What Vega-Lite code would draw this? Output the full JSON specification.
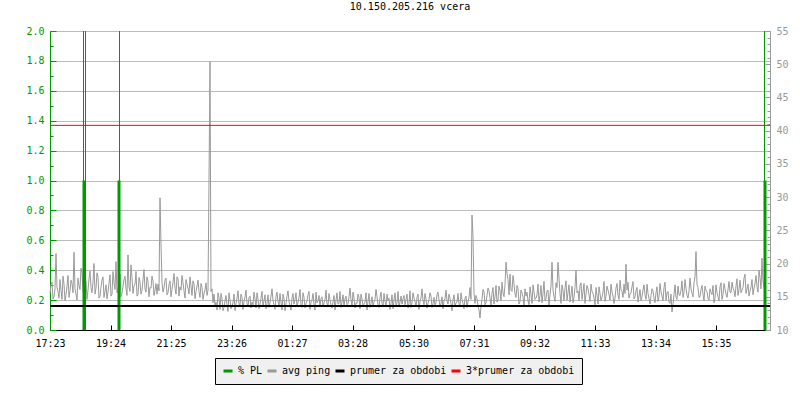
{
  "$schema": "https://vega.github.io/schema/vega-lite/v6.json",
  "width": 720,
  "height": 299,
  "autosize": {"type": "none"},
  "padding": {"left": 50, "top": 31, "right": 30, "bottom": 70},
  "background": "white",
  "title": {"text": "10.150.205.216 vcera", "font": "DejaVu Sans Mono", "fontSize": 10, "fontWeight": "normal", "color": "black", "offset": 14},
  "config": {
    "view": {"stroke": null},
    "axis": {"labelFont": "DejaVu Sans Mono", "labelFontSize": 10, "title": null},
    "legend": {
      "orient": "none", "legendX": 165, "legendY": 327, "direction": "horizontal",
      "fillColor": "#f0f0f0", "strokeColor": "black", "padding": 7,
      "symbolType": "stroke", "symbolSize": 81, "symbolStrokeWidth": 3,
      "labelFont": "DejaVu Sans Mono", "labelFontSize": 10, "labelColor": "black",
      "labelOffset": 4, "columnPadding": -2, "title": null
    }
  },
  "datasets": {
    "ping": [
      {"t":0,"ms":15.5},{"t":2,"ms":16.8},{"t":4,"ms":17.2},{"t":6,"ms":14.7},{"t":8,"ms":15.0},{"t":10,"ms":16.2},{"t":12,"ms":21.5},{"t":14,"ms":16.4},{"t":16,"ms":15.8},{"t":18,"ms":14.8},{"t":20,"ms":17.6},{"t":22,"ms":16.0},{"t":24,"ms":14.6},{"t":26,"ms":18.1},{"t":28,"ms":16.9},{"t":30,"ms":14.4},{"t":32,"ms":15.3},{"t":34,"ms":16.6},{"t":36,"ms":18.2},{"t":38,"ms":14.9},{"t":40,"ms":15.9},{"t":42,"ms":17.5},{"t":44,"ms":17.0},{"t":46,"ms":15.6},{"t":48,"ms":21.7},{"t":50,"ms":16.2},{"t":52,"ms":15.4},{"t":54,"ms":14.5},{"t":56,"ms":17.8},{"t":58,"ms":16.7},{"t":60,"ms":16.1},{"t":62,"ms":19.3},{"t":64,"ms":18.6},{"t":66,"ms":15.9},{"t":68,"ms":15.2},{"t":70,"ms":17.1},{"t":72,"ms":17.4},{"t":74,"ms":14.6},{"t":76,"ms":16.0},{"t":78,"ms":17.7},{"t":80,"ms":18.9},{"t":82,"ms":16.4},{"t":84,"ms":15.6},{"t":86,"ms":17.3},{"t":88,"ms":20.0},{"t":90,"ms":15.4},{"t":92,"ms":16.3},{"t":94,"ms":18.6},{"t":96,"ms":17.9},{"t":98,"ms":14.8},{"t":100,"ms":15.1},{"t":102,"ms":16.5},{"t":104,"ms":17.5},{"t":106,"ms":18.0},{"t":108,"ms":14.9},{"t":110,"ms":15.8},{"t":112,"ms":16.8},{"t":114,"ms":14.7},{"t":116,"ms":15.7},{"t":118,"ms":17.0},{"t":120,"ms":18.3},{"t":122,"ms":15.1},{"t":124,"ms":15.4},{"t":126,"ms":18.8},{"t":128,"ms":17.1},{"t":130,"ms":16.1},{"t":132,"ms":20.3},{"t":134,"ms":15.6},{"t":136,"ms":16.0},{"t":138,"ms":17.2},{"t":140,"ms":18.4},{"t":142,"ms":15.0},{"t":144,"ms":15.5},{"t":146,"ms":16.6},{"t":148,"ms":17.6},{"t":150,"ms":18.1},{"t":152,"ms":16.2},{"t":154,"ms":15.2},{"t":156,"ms":21.3},{"t":158,"ms":16.4},{"t":160,"ms":15.8},{"t":162,"ms":19.8},{"t":164,"ms":17.9},{"t":166,"ms":15.5},{"t":168,"ms":16.6},{"t":170,"ms":16.9},{"t":172,"ms":18.8},{"t":174,"ms":15.1},{"t":176,"ms":15.3},{"t":178,"ms":17.9},{"t":180,"ms":17.2},{"t":182,"ms":15.4},{"t":184,"ms":16.0},{"t":186,"ms":17.6},{"t":188,"ms":19.1},{"t":190,"ms":16.2},{"t":192,"ms":15.7},{"t":194,"ms":18.0},{"t":196,"ms":17.3},{"t":198,"ms":15.0},{"t":200,"ms":16.4},{"t":202,"ms":16.3},{"t":204,"ms":18.1},{"t":206,"ms":17.4},{"t":208,"ms":15.2},{"t":210,"ms":16.0},{"t":212,"ms":17.0},{"t":214,"ms":15.4},{"t":216,"ms":16.9},{"t":218,"ms":15.9},{"t":220,"ms":29.9},{"t":222,"ms":22.9},{"t":224,"ms":17.2},{"t":226,"ms":15.7},{"t":228,"ms":16.3},{"t":230,"ms":17.5},{"t":232,"ms":17.8},{"t":234,"ms":15.3},{"t":236,"ms":15.6},{"t":238,"ms":16.8},{"t":240,"ms":17.4},{"t":242,"ms":15.0},{"t":244,"ms":16.1},{"t":246,"ms":17.2},{"t":248,"ms":18.5},{"t":250,"ms":16.3},{"t":252,"ms":15.4},{"t":254,"ms":18.0},{"t":256,"ms":17.7},{"t":258,"ms":15.1},{"t":260,"ms":16.5},{"t":262,"ms":16.0},{"t":264,"ms":18.2},{"t":266,"ms":17.1},{"t":268,"ms":15.9},{"t":270,"ms":14.8},{"t":272,"ms":17.6},{"t":274,"ms":16.9},{"t":276,"ms":16.3},{"t":278,"ms":15.4},{"t":280,"ms":18.0},{"t":282,"ms":16.6},{"t":284,"ms":15.2},{"t":286,"ms":17.4},{"t":288,"ms":16.9},{"t":290,"ms":14.7},{"t":292,"ms":15.8},{"t":294,"ms":16.6},{"t":296,"ms":17.5},{"t":298,"ms":15.8},{"t":300,"ms":14.9},{"t":302,"ms":17.0},{"t":304,"ms":16.4},{"t":306,"ms":14.6},{"t":308,"ms":15.5},{"t":310,"ms":16.0},{"t":312,"ms":17.1},{"t":314,"ms":15.2},{"t":316,"ms":16.0},{"t":318,"ms":32.6},{"t":320,"ms":50.4},{"t":322,"ms":15.8},{"t":324,"ms":16.2},{"t":326,"ms":14.1},{"t":328,"ms":15.4},{"t":330,"ms":13.6},
      {"t":332,"ms":14.2},{"t":334,"ms":13.0},{"t":336,"ms":15.6},{"t":338,"ms":14.9},{"t":340,"ms":13.1},{"t":342,"ms":15.5},{"t":344,"ms":14.8},{"t":346,"ms":12.9},{"t":348,"ms":13.4},{"t":350,"ms":14.4},{"t":352,"ms":15.2},{"t":354,"ms":13.8},{"t":356,"ms":12.8},{"t":358,"ms":15.6},{"t":360,"ms":14.5},{"t":362,"ms":13.2},{"t":364,"ms":13.6},{"t":366,"ms":14.1},{"t":368,"ms":15.4},{"t":370,"ms":12.9},{"t":372,"ms":14.0},{"t":374,"ms":14.8},{"t":376,"ms":15.9},{"t":378,"ms":13.9},{"t":380,"ms":13.7},{"t":382,"ms":15.4},{"t":384,"ms":14.9},{"t":386,"ms":13.1},{"t":388,"ms":14.3},{"t":390,"ms":15.0},{"t":392,"ms":16.0},{"t":394,"ms":14.0},{"t":396,"ms":13.5},{"t":398,"ms":14.9},{"t":400,"ms":15.1},{"t":402,"ms":13.3},{"t":404,"ms":14.2},{"t":406,"ms":13.8},{"t":408,"ms":15.7},{"t":410,"ms":14.7},{"t":412,"ms":13.3},{"t":414,"ms":15.6},{"t":416,"ms":14.6},{"t":418,"ms":13.2},{"t":420,"ms":13.9},{"t":422,"ms":14.8},{"t":424,"ms":15.8},{"t":426,"ms":13.5},{"t":428,"ms":14.4},{"t":430,"ms":15.3},{"t":432,"ms":13.2},{"t":434,"ms":14.0},{"t":436,"ms":15.3},{"t":438,"ms":13.4},{"t":440,"ms":14.1},{"t":442,"ms":15.1},{"t":444,"ms":16.2},{"t":446,"ms":14.5},{"t":448,"ms":13.8},{"t":450,"ms":13.1},{"t":452,"ms":15.0},{"t":454,"ms":15.7},{"t":456,"ms":14.3},{"t":458,"ms":13.6},{"t":460,"ms":15.5},{"t":462,"ms":14.2},{"t":464,"ms":13.0},{"t":466,"ms":15.4},{"t":468,"ms":14.7},{"t":470,"ms":12.9},{"t":472,"ms":14.0},{"t":474,"ms":15.1},{"t":476,"ms":15.9},{"t":478,"ms":14.3},{"t":480,"ms":13.6},{"t":482,"ms":13.0},{"t":484,"ms":14.8},{"t":486,"ms":15.5},{"t":488,"ms":13.9},{"t":490,"ms":14.6},{"t":492,"ms":15.6},{"t":494,"ms":13.5},{"t":496,"ms":14.2},{"t":498,"ms":14.9},{"t":500,"ms":16.1},{"t":502,"ms":13.7},{"t":504,"ms":13.4},{"t":506,"ms":15.6},{"t":508,"ms":14.9},{"t":510,"ms":13.3},{"t":512,"ms":14.0},{"t":514,"ms":14.4},{"t":516,"ms":15.3},{"t":518,"ms":15.8},{"t":520,"ms":13.1},{"t":522,"ms":14.2},{"t":524,"ms":14.5},{"t":526,"ms":15.5},{"t":528,"ms":13.8},{"t":530,"ms":13.0},{"t":532,"ms":15.7},{"t":534,"ms":14.1},{"t":536,"ms":14.4},{"t":538,"ms":15.2},{"t":540,"ms":13.5},{"t":542,"ms":14.7},{"t":544,"ms":15.0},{"t":546,"ms":13.6},{"t":548,"ms":14.1},{"t":550,"ms":14.5},{"t":552,"ms":16.0},{"t":554,"ms":13.9},{"t":556,"ms":13.7},{"t":558,"ms":15.5},{"t":560,"ms":14.6},{"t":562,"ms":13.8},{"t":564,"ms":13.3},{"t":566,"ms":14.2},{"t":568,"ms":15.2},{"t":570,"ms":13.0},{"t":572,"ms":14.5},{"t":574,"ms":15.6},{"t":576,"ms":13.9},{"t":578,"ms":14.0},{"t":580,"ms":15.8},{"t":582,"ms":13.4},{"t":584,"ms":14.2},{"t":586,"ms":15.3},{"t":588,"ms":13.6},{"t":590,"ms":14.7},{"t":592,"ms":15.1},{"t":594,"ms":13.8},{"t":596,"ms":14.0},{"t":598,"ms":15.0},{"t":600,"ms":16.3},{"t":602,"ms":14.6},{"t":604,"ms":13.5},{"t":606,"ms":15.7},{"t":608,"ms":14.8},{"t":610,"ms":13.3},{"t":612,"ms":14.1},{"t":614,"ms":14.0},{"t":616,"ms":15.4},{"t":618,"ms":14.9},{"t":620,"ms":13.2},{"t":622,"ms":15.4},{"t":624,"ms":14.7},{"t":626,"ms":13.6},{"t":628,"ms":13.9},{"t":630,"ms":14.2},{"t":632,"ms":15.6},{"t":634,"ms":13.0},{"t":636,"ms":14.3},{"t":638,"ms":15.5},{"t":640,"ms":13.4},{"t":642,"ms":14.0},{"t":644,"ms":15.0},{"t":646,"ms":13.7},{"t":648,"ms":14.2},{"t":650,"ms":14.6},{"t":652,"ms":16.1},{"t":654,"ms":15.0},{"t":656,"ms":13.8},{"t":658,"ms":13.4},{"t":660,"ms":14.9},{"t":662,"ms":15.7},{"t":664,"ms":14.0},{"t":666,"ms":13.5},{"t":668,"ms":15.5},{"t":670,"ms":14.3},{"t":672,"ms":13.6},{"t":674,"ms":15.4},{"t":676,"ms":14.4},{"t":678,"ms":14.8},{"t":680,"ms":13.1},{"t":682,"ms":14.0},{"t":684,"ms":15.3},{"t":686,"ms":13.2},{"t":688,"ms":14.5},{"t":690,"ms":15.6},{"t":692,"ms":13.7},{"t":694,"ms":14.1},{"t":696,"ms":15.8},{"t":698,"ms":13.5},{"t":700,"ms":14.2},{"t":702,"ms":15.1},{"t":704,"ms":13.9},{"t":706,"ms":14.7},{"t":708,"ms":15.2},{"t":710,"ms":13.8},{"t":712,"ms":14.6},{"t":714,"ms":15.4},{"t":716,"ms":13.3},{"t":718,"ms":14.0},{"t":720,"ms":15.9},{"t":722,"ms":13.4},{"t":724,"ms":14.1},{"t":726,"ms":15.6},{"t":728,"ms":14.8},{"t":730,"ms":14.3},{"t":732,"ms":13.5},{"t":734,"ms":14.9},{"t":736,"ms":15.4},{"t":738,"ms":13.1},{"t":740,"ms":14.3},{"t":742,"ms":14.8},{"t":744,"ms":16.2},{"t":746,"ms":14.5},{"t":748,"ms":13.8},{"t":750,"ms":15.5},{"t":752,"ms":14.7},{"t":754,"ms":13.3},{"t":756,"ms":14.0},{"t":758,"ms":14.6},{"t":760,"ms":15.6},{"t":762,"ms":15.1},{"t":764,"ms":13.4},{"t":766,"ms":14.0},{"t":768,"ms":14.9},{"t":770,"ms":13.6},{"t":772,"ms":14.2},{"t":774,"ms":15.3},{"t":776,"ms":15.7},{"t":778,"ms":14.5},{"t":780,"ms":13.6},{"t":782,"ms":14.0},{"t":784,"ms":15.0},{"t":786,"ms":13.2},{"t":788,"ms":14.4},{"t":790,"ms":14.7},{"t":792,"ms":16.0},{"t":794,"ms":14.4},{"t":796,"ms":13.9},{"t":798,"ms":15.4},{"t":800,"ms":14.8},{"t":802,"ms":14.0},{"t":804,"ms":12.9},{"t":806,"ms":14.5},{"t":808,"ms":15.3},{"t":810,"ms":13.5},{"t":812,"ms":14.1},{"t":814,"ms":14.2},{"t":816,"ms":15.5},{"t":818,"ms":13.9},{"t":820,"ms":13.7},{"t":822,"ms":15.6},{"t":824,"ms":14.6},{"t":826,"ms":14.0},{"t":828,"ms":13.2},{"t":830,"ms":14.8},{"t":832,"ms":15.1},{"t":834,"ms":13.4},{"t":836,"ms":14.3},{"t":838,"ms":14.9},{"t":840,"ms":16.4},{"t":842,"ms":14.6},{"t":844,"ms":27.3},{"t":846,"ms":24.0},{"t":848,"ms":15.5},{"t":850,"ms":14.0},{"t":852,"ms":15.2},{"t":854,"ms":14.7},{"t":856,"ms":13.6},{"t":858,"ms":13.0},
      {"t":860,"ms":11.8},{"t":862,"ms":13.5},{"t":864,"ms":14.6},{"t":866,"ms":16.1},{"t":868,"ms":15.8},{"t":870,"ms":13.8},{"t":872,"ms":14.1},{"t":874,"ms":15.2},{"t":876,"ms":16.3},{"t":878,"ms":15.9},{"t":880,"ms":14.8},{"t":882,"ms":13.7},{"t":884,"ms":15.5},{"t":886,"ms":16.4},{"t":888,"ms":13.9},{"t":890,"ms":15.0},{"t":892,"ms":16.7},{"t":894,"ms":14.2},{"t":896,"ms":14.5},{"t":898,"ms":16.6},{"t":900,"ms":15.9},{"t":902,"ms":14.4},{"t":904,"ms":17.2},{"t":906,"ms":15.6},{"t":908,"ms":15.0},{"t":910,"ms":16.8},{"t":912,"ms":20.2},{"t":914,"ms":18.5},{"t":916,"ms":17.6},{"t":918,"ms":15.3},{"t":920,"ms":18.4},{"t":922,"ms":16.0},{"t":924,"ms":15.8},{"t":926,"ms":18.2},{"t":928,"ms":17.0},{"t":930,"ms":15.4},{"t":932,"ms":14.9},{"t":934,"ms":16.7},{"t":936,"ms":16.2},{"t":938,"ms":13.9},{"t":940,"ms":14.3},{"t":942,"ms":16.0},{"t":944,"ms":15.6},{"t":946,"ms":14.9},{"t":948,"ms":13.6},{"t":950,"ms":16.2},{"t":952,"ms":15.1},{"t":954,"ms":15.7},{"t":956,"ms":14.4},{"t":958,"ms":13.8},{"t":960,"ms":16.5},{"t":962,"ms":15.4},{"t":964,"ms":14.0},{"t":966,"ms":16.8},{"t":968,"ms":15.7},{"t":970,"ms":14.6},{"t":972,"ms":14.8},{"t":974,"ms":15.3},{"t":976,"ms":16.9},{"t":978,"ms":14.2},{"t":980,"ms":15.2},{"t":982,"ms":16.7},{"t":984,"ms":14.1},{"t":986,"ms":15.5},{"t":988,"ms":17.3},{"t":990,"ms":14.4},{"t":992,"ms":14.7},{"t":994,"ms":15.9},{"t":996,"ms":16.0},{"t":998,"ms":13.6},{"t":1000,"ms":15.3},{"t":1002,"ms":16.6},{"t":1004,"ms":20.2},{"t":1006,"ms":16.0},{"t":1008,"ms":15.0},{"t":1010,"ms":14.3},{"t":1012,"ms":17.1},{"t":1014,"ms":16.4},{"t":1016,"ms":20.2},{"t":1018,"ms":17.8},{"t":1020,"ms":15.5},{"t":1022,"ms":14.0},{"t":1024,"ms":16.8},{"t":1026,"ms":15.9},{"t":1028,"ms":14.4},{"t":1030,"ms":16.3},{"t":1032,"ms":17.4},{"t":1034,"ms":14.5},{"t":1036,"ms":15.6},{"t":1038,"ms":16.8},{"t":1040,"ms":14.2},{"t":1042,"ms":15.3},{"t":1044,"ms":16.6},{"t":1046,"ms":14.1},{"t":1048,"ms":15.0},{"t":1050,"ms":16.4},{"t":1052,"ms":19.0},{"t":1054,"ms":15.6},{"t":1056,"ms":15.9},{"t":1058,"ms":14.4},{"t":1060,"ms":16.7},{"t":1062,"ms":17.1},{"t":1064,"ms":14.6},{"t":1066,"ms":15.7},{"t":1068,"ms":17.0},{"t":1070,"ms":14.0},{"t":1072,"ms":15.4},{"t":1074,"ms":16.7},{"t":1076,"ms":16.2},{"t":1078,"ms":15.3},{"t":1080,"ms":14.3},{"t":1082,"ms":16.9},{"t":1084,"ms":15.8},{"t":1086,"ms":15.5},{"t":1088,"ms":14.8},{"t":1090,"ms":13.8},{"t":1092,"ms":16.4},{"t":1094,"ms":15.2},{"t":1096,"ms":13.9},{"t":1098,"ms":16.5},{"t":1100,"ms":15.5},{"t":1102,"ms":14.4},{"t":1104,"ms":14.9},{"t":1106,"ms":15.7},{"t":1108,"ms":17.3},{"t":1110,"ms":14.3},{"t":1112,"ms":15.1},{"t":1114,"ms":16.6},{"t":1116,"ms":16.0},{"t":1118,"ms":15.4},{"t":1120,"ms":14.5},{"t":1122,"ms":16.9},{"t":1124,"ms":15.7},{"t":1126,"ms":15.1},{"t":1128,"ms":14.0},{"t":1130,"ms":14.8},{"t":1132,"ms":16.3},{"t":1134,"ms":17.0},{"t":1136,"ms":15.2},{"t":1138,"ms":14.6},{"t":1140,"ms":17.5},{"t":1142,"ms":16.1},{"t":1144,"ms":15.8},{"t":1146,"ms":14.9},{"t":1148,"ms":16.9},{"t":1150,"ms":15.5},{"t":1152,"ms":19.9},{"t":1154,"ms":16.0},{"t":1156,"ms":17.2},{"t":1158,"ms":14.8},{"t":1160,"ms":15.4},{"t":1162,"ms":15.6},{"t":1164,"ms":16.5},{"t":1166,"ms":17.3},{"t":1168,"ms":14.7},{"t":1170,"ms":15.0},{"t":1172,"ms":15.9},{"t":1174,"ms":16.4},{"t":1176,"ms":14.2},{"t":1178,"ms":15.1},{"t":1180,"ms":16.1},{"t":1182,"ms":14.4},{"t":1184,"ms":15.0},{"t":1186,"ms":16.0},{"t":1188,"ms":16.8},{"t":1190,"ms":15.3},{"t":1192,"ms":14.6},{"t":1194,"ms":16.9},{"t":1196,"ms":15.5},{"t":1198,"ms":14.7},{"t":1200,"ms":13.9},{"t":1202,"ms":15.2},{"t":1204,"ms":16.2},{"t":1206,"ms":15.9},{"t":1208,"ms":14.8},{"t":1210,"ms":14.1},{"t":1212,"ms":15.6},{"t":1214,"ms":16.5},{"t":1216,"ms":14.3},{"t":1218,"ms":15.0},{"t":1220,"ms":17.0},{"t":1222,"ms":15.8},{"t":1224,"ms":15.1},{"t":1226,"ms":14.4},{"t":1228,"ms":16.4},{"t":1230,"ms":17.2},{"t":1232,"ms":14.5},{"t":1234,"ms":15.6},{"t":1236,"ms":15.8},{"t":1238,"ms":14.2},{"t":1240,"ms":14.0},{"t":1242,"ms":15.4},{"t":1244,"ms":12.7},{"t":1246,"ms":13.9},{"t":1248,"ms":15.3},{"t":1250,"ms":16.8},{"t":1252,"ms":14.9},{"t":1254,"ms":14.6},{"t":1256,"ms":16.6},{"t":1258,"ms":15.3},{"t":1260,"ms":15.2},{"t":1262,"ms":16.0},{"t":1264,"ms":17.4},{"t":1266,"ms":14.9},{"t":1268,"ms":15.7},{"t":1270,"ms":17.6},{"t":1272,"ms":16.3},{"t":1274,"ms":15.2},{"t":1276,"ms":14.8},{"t":1278,"ms":15.9},{"t":1280,"ms":17.8},{"t":1282,"ms":16.2},{"t":1284,"ms":15.5},{"t":1286,"ms":15.0},{"t":1288,"ms":17.1},{"t":1290,"ms":18.0},{"t":1292,"ms":21.8},{"t":1294,"ms":16.8},{"t":1296,"ms":16.4},{"t":1298,"ms":14.9},{"t":1300,"ms":15.0},{"t":1302,"ms":16.1},{"t":1304,"ms":16.7},{"t":1306,"ms":15.4},{"t":1308,"ms":14.4},{"t":1310,"ms":16.6},{"t":1312,"ms":15.9},{"t":1314,"ms":15.8},{"t":1316,"ms":14.7},{"t":1318,"ms":14.5},{"t":1320,"ms":16.2},{"t":1322,"ms":15.6},{"t":1324,"ms":15.3},{"t":1326,"ms":16.7},{"t":1328,"ms":14.1},{"t":1330,"ms":14.8},{"t":1332,"ms":16.8},{"t":1334,"ms":15.6},{"t":1336,"ms":15.0},{"t":1338,"ms":14.4},{"t":1340,"ms":16.5},{"t":1342,"ms":17.1},{"t":1344,"ms":14.6},{"t":1346,"ms":15.3},{"t":1348,"ms":17.0},{"t":1350,"ms":16.2},{"t":1352,"ms":15.4},{"t":1354,"ms":14.9},{"t":1356,"ms":16.1},{"t":1358,"ms":17.3},{"t":1360,"ms":15.7},{"t":1362,"ms":15.6},{"t":1364,"ms":17.2},{"t":1366,"ms":16.3},{"t":1368,"ms":15.9},{"t":1370,"ms":15.0},{"t":1372,"ms":16.6},{"t":1374,"ms":17.7},{"t":1376,"ms":15.2},{"t":1378,"ms":16.1},{"t":1380,"ms":17.5},{"t":1382,"ms":15.6},{"t":1384,"ms":16.0},{"t":1386,"ms":16.4},{"t":1388,"ms":17.8},{"t":1390,"ms":18.4},{"t":1392,"ms":15.5},{"t":1394,"ms":16.2},{"t":1396,"ms":16.9},{"t":1398,"ms":15.1},{"t":1400,"ms":15.8},{"t":1402,"ms":16.5},{"t":1404,"ms":17.6},{"t":1406,"ms":15.3},{"t":1408,"ms":16.3},{"t":1410,"ms":17.0},{"t":1412,"ms":18.2},{"t":1414,"ms":16.5},{"t":1416,"ms":15.7},{"t":1418,"ms":19.0},{"t":1420,"ms":17.9},{"t":1422,"ms":16.2},{"t":1424,"ms":20.8},{"t":1426,"ms":17.3},{"t":1428,"ms":16.4},{"t":1430,"ms":15.9}
    ],
    "pl": [
      {"t":67,"pl":100},{"t":68,"pl":1.0},{"t":71,"pl":100},
      {"t":138,"pl":1.0},{"t":139,"pl":100},
      {"t":1429,"pl":100},{"t":1430,"pl":1.0}
    ],
    "avg": [
      {"serie":"prumer za obdobi","ms":13.6},
      {"serie":"3*prumer za obdobi","ms":40.8}
    ]
  },
  "layer": [
    {
      "data": {"name": "ping"},
      "mark": {"type": "line", "strokeWidth": 1},
      "encoding": {
        "x": {"field": "t", "type": "quantitative", "scale": {"domain": [0, 1440], "nice": false},
          "axis": {"values": [0,121,242,363,484,605,727,848,969,1090,1211,1332],
            "labelExpr": "timeFormat(datetime(2024,0,1,17,23+datum.value),'%H:%M')",
            "grid": false, "tickSize": -5, "tickColor": "black", "domainColor": "black", "labelColor": "black", "labelPadding": 13, "labelFlush": false, "labelOverlap": false}},
        "y": {"field": "ms", "type": "quantitative", "scale": {"domain": [10, 55], "nice": false, "zero": false},
          "axis": {"orient": "right", "values": [10,11,12,13,14,15,16,17,18,19,20,21,22,23,24,25,26,27,28,29,30,31,32,33,34,35,36,37,38,39,40,41,42,43,44,45,46,47,48,49,50,51,52,53,54,55],
            "labelExpr": "datum.value % 5 == 0 ? datum.value : ''",
            "grid": false, "domainColor": "#999999", "tickColor": "#999999", "labelColor": "#999999",
            "tickSize": {"condition": {"test": "datum.value % 5 == 0", "value": -5}, "value": -3},
            "labelPadding": 11, "labelFlush": false, "labelOverlap": false}},
        "color": {"datum": "avg ping", "type": "nominal",
          "scale": {"domain": ["% PL", "avg ping", "prumer za obdobi", "3*prumer za obdobi"], "range": ["#009900", "#999999", "#000000", "#ff0000"]}}
      }
    },
    {
      "data": {"name": "pl"},
      "mark": {"type": "rule", "clip": true},
      "encoding": {
        "x": {"field": "t", "type": "quantitative"},
        "y": {"field": "pl", "type": "quantitative", "scale": {"domain": [0, 2], "nice": false},
          "axis": {"orient": "left", "values": [0,0.1,0.2,0.3,0.4,0.5,0.6,0.7,0.8,0.9,1,1.1,1.2,1.3,1.4,1.5,1.6,1.7,1.8,1.9,2],
            "labelExpr": "round(datum.value*10) % 2 == 0 ? format(datum.value, '.1f') : ''",
            "grid": true, "gridColor": "#bbbbbb",
            "gridOpacity": {"condition": {"test": "round(datum.value*10) % 2 == 1", "value": 0}, "value": 1},
            "domainColor": "#009900", "tickColor": "#009900", "labelColor": "#009900",
            "tickSize": {"condition": {"test": "round(datum.value*10) % 2 == 0", "value": -6}, "value": -3},
            "labelPadding": 12, "labelFlush": false, "labelOverlap": false}},
        "y2": {"datum": 0},
        "color": {"datum": "% PL", "type": "nominal"},
        "strokeWidth": {"condition": {"test": "datum.pl > 2", "value": 1}, "value": 3}
      }
    },
    {
      "data": {"name": "avg"},
      "mark": {"type": "rule"},
      "encoding": {
        "y": {"field": "ms", "type": "quantitative", "scale": {"domain": [10, 55], "nice": false, "zero": false}, "axis": null},
        "color": {"field": "serie", "type": "nominal"},
        "strokeWidth": {"condition": {"test": "datum.serie == 'prumer za obdobi'", "value": 2}, "value": 1}
      }
    }
  ],
  "resolve": {"scale": {"y": "independent"}}
}
